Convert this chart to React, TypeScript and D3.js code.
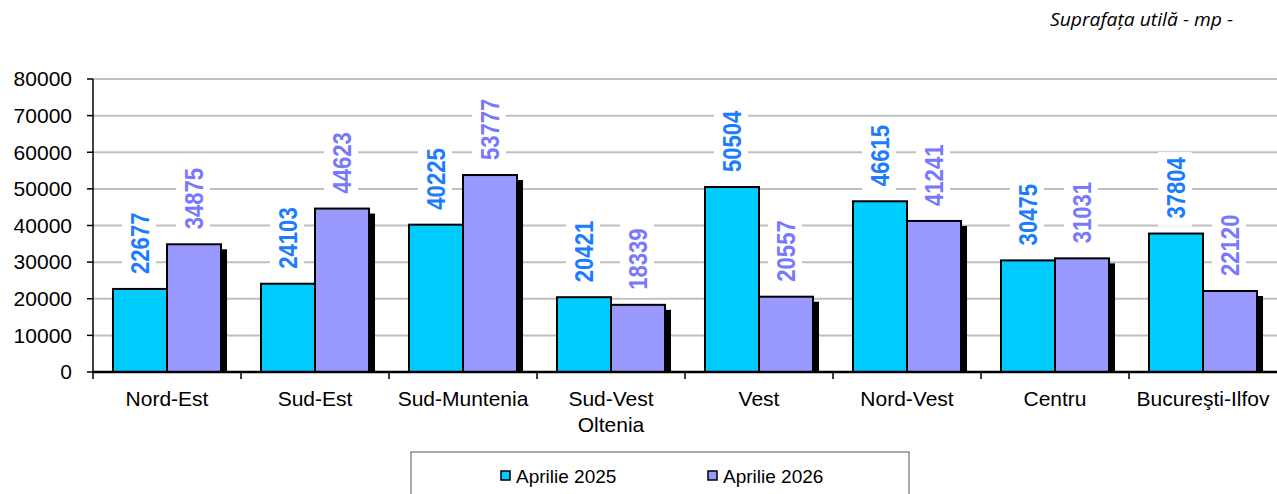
import React from "react";
import * as d3 from "d3";

const categories = [
  ["Nord-Est"],
  ["Sud-Est"],
  ["Sud-Muntenia"],
  ["Sud-Vest", "Oltenia"],
  ["Vest"],
  ["Nord-Vest"],
  ["Centru"],
  ["Bucureşti-Ilfov"],
];
const seriesNames = ["Aprilie 2025", "Aprilie 2026"];
const values2025 = [22677, 24103, 40225, 20421, 50504, 46615, 30475, 37804];
const values2026 = [34875, 44623, 53777, 18339, 20557, 41241, 31031, 22120];
const yTicks = [0, 10000, 20000, 30000, 40000, 50000, 60000, 70000, 80000];

const W = 1277;
const H = 494;
const FONT = "'Liberation Sans', Arial, sans-serif";
const barColors = ["#00CCFF", "#9999FF"];
const labelColors = ["#1C7CFF", "#7878FF"];

export default function App() {
  const series = [values2025, values2026];
  const keys = categories.map((c) => c.join(" "));
  const x0 = d3.scaleBand<string>().domain(keys).range([93, 1277]).padding(0);
  const x1 = d3
    .scaleBand<number>()
    .domain([0, 1])
    .range([0, x0.bandwidth()])
    .paddingInner(0)
    .paddingOuter(0.37);
  const y = d3.scaleLinear().domain([0, 80000]).range([372, 79]);
  const bw = x1.bandwidth();

  const shadowDx = 6;
  const shadowDy = 5;
  const labelGap = 15;
  const fs = 26;
  const sx = 0.85;
  const textLen = (s: string) => s.length * 0.556 * fs * sx;

  return (
    <svg
      width={W}
      height={H}
      style={{ position: "absolute", left: 0, top: 0, background: "#fff" }}
      fontFamily={FONT}
    >
      <rect x={0} y={0} width={W} height={H} fill="#fff" />
      <text
        x={1233}
        y={26}
        textAnchor="end"
        fontFamily="'Open Sans', sans-serif"
        fontStyle="italic"
        fontSize={18}
        textLength={183}
        lengthAdjust="spacingAndGlyphs"
        fill="#000"
      >
        Suprafața utilă - mp -
      </text>

      {/* gridlines */}
      {yTicks.slice(1).map((t) => (
        <line key={t} x1={93} x2={1277} y1={y(t)} y2={y(t)} stroke="#C0C0C0" strokeWidth={2} />
      ))}

      {/* y axis */}
      <line x1={93} x2={93} y1={y(80000)} y2={y(0)} stroke="#000" strokeWidth={1.5} />
      {yTicks.map((t) => (
        <g key={t}>
          <line x1={87} x2={93} y1={y(t)} y2={y(t)} stroke="#000" strokeWidth={1.5} />
          <text x={72} y={y(t)} dy="0.35em" textAnchor="end" fontSize={21} fill="#000">
            {t}
          </text>
        </g>
      ))}

      {/* bars */}
      {keys.map((k, i) => (
        <g key={k} transform={`translate(${x0(k)},0)`}>
          {series.map((vals, s) => {
            const bx = x1(s)!;
            const by = y(vals[i]);
            return (
              <g key={s}>
                {s === 1 && (
                  <rect
                    x={bx + shadowDx}
                    y={by + shadowDy}
                    width={bw}
                    height={y(0) - by - shadowDy}
                    fill="#000"
                  />
                )}
                <rect
                  x={bx}
                  y={by}
                  width={bw}
                  height={y(0) - by}
                  fill={barColors[s]}
                  stroke="#000"
                  strokeWidth={2}
                />
              </g>
            );
          })}
        </g>
      ))}

      {/* labels */}
      {keys.map((k, i) => (
        <g key={k} transform={`translate(${x0(k)},0)`}>
          {series.map((vals, s) => {
            const cx = x1(s)! + bw / 2;
            const start = y(vals[i]) - labelGap;
            const str = String(vals[i]);
            const len = textLen(str);
            return (
              <g key={s}>
                <rect x={cx - 18} y={start - len - 5} width={34} height={len + 13} fill="#fff" />
                <text
                  transform={`translate(${cx},${start}) rotate(-90) scale(${sx},1)`}
                  dy="0.36em"
                  fontSize={fs}
                  fontWeight="bold"
                  fill={labelColors[s]}
                >
                  {str}
                </text>
              </g>
            );
          })}
        </g>
      ))}

      {/* x axis */}
      <line x1={93} x2={1277} y1={372} y2={372} stroke="#000" strokeWidth={2.5} />
      {keys.map((k) => (
        <line key={k} x1={x0(k)!} x2={x0(k)!} y1={372} y2={379} stroke="#000" strokeWidth={1.5} />
      ))}
      {categories.map((c, i) => (
        <text key={i} textAnchor="middle" fontSize={21} fill="#000">
          {c.map((line, j) => (
            <tspan key={j} x={x0(keys[i])! + x0.bandwidth() / 2} y={406 + j * 26}>
              {line}
            </tspan>
          ))}
        </text>
      ))}

      {/* legend */}
      <rect x={411} y={452} width={498} height={80} fill="#fff" stroke="#555" strokeWidth={1} />
      {seriesNames.map((n, s) => (
        <g key={n} transform={`translate(${501 + s * 207},0)`}>
          <rect x={0} y={471} width={9} height={9} fill={barColors[s]} stroke="#000" strokeWidth={1.5} />
          <text x={15} y={483} fontSize={19} fill="#000">
            {n}
          </text>
        </g>
      ))}
    </svg>
  );
}
